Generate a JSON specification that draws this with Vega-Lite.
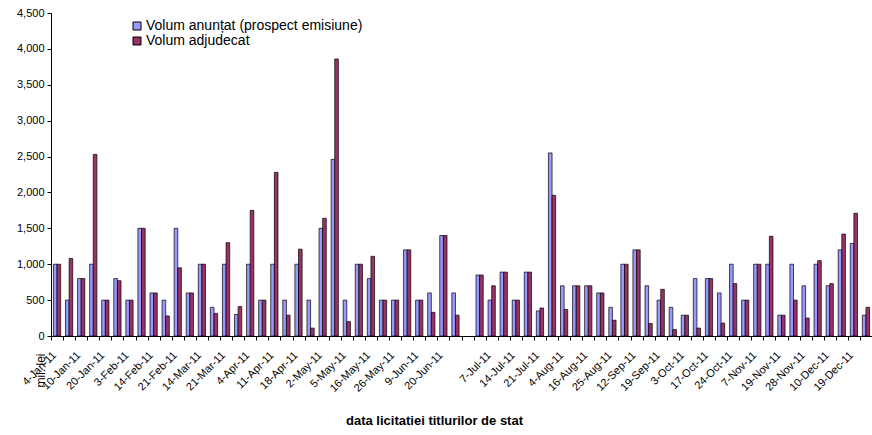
{
  "$schema": "https://vega.github.io/schema/vega-lite/v6.json",
  "width": 821,
  "height": 323,
  "autosize": {"type": "none"},
  "padding": {"left": 51, "top": 13, "right": 0, "bottom": 99},
  "background": "white",
  "config": {"view": {"stroke": null}, "font": "Liberation Sans"},
  "data": {"values": [
    {"data":"4-Jan-11","anuntat":1000,"adjudecat":1000},
    {"data":"6-Jan-11","anuntat":500,"adjudecat":1080},
    {"data":"10-Jan-11","anuntat":800,"adjudecat":800},
    {"data":"17-Jan-11","anuntat":1000,"adjudecat":2530},
    {"data":"20-Jan-11","anuntat":500,"adjudecat":500},
    {"data":"27-Jan-11","anuntat":800,"adjudecat":770},
    {"data":"3-Feb-11","anuntat":500,"adjudecat":500},
    {"data":"10-Feb-11","anuntat":1500,"adjudecat":1500},
    {"data":"14-Feb-11","anuntat":600,"adjudecat":600},
    {"data":"17-Feb-11","anuntat":500,"adjudecat":280},
    {"data":"21-Feb-11","anuntat":1500,"adjudecat":950},
    {"data":"28-Feb-11","anuntat":600,"adjudecat":600},
    {"data":"14-Mar-11","anuntat":1000,"adjudecat":1000},
    {"data":"17-Mar-11","anuntat":400,"adjudecat":315},
    {"data":"21-Mar-11","anuntat":1000,"adjudecat":1300},
    {"data":"28-Mar-11","anuntat":300,"adjudecat":410},
    {"data":"4-Apr-11","anuntat":1000,"adjudecat":1750},
    {"data":"7-Apr-11","anuntat":500,"adjudecat":500},
    {"data":"11-Apr-11","anuntat":1000,"adjudecat":2280},
    {"data":"14-Apr-11","anuntat":500,"adjudecat":290},
    {"data":"18-Apr-11","anuntat":1000,"adjudecat":1210},
    {"data":"28-Apr-11","anuntat":500,"adjudecat":110},
    {"data":"2-May-11","anuntat":1500,"adjudecat":1640},
    {"data":"4-May-11","anuntat":2460,"adjudecat":3860},
    {"data":"5-May-11","anuntat":500,"adjudecat":200},
    {"data":"12-May-11","anuntat":1000,"adjudecat":1000},
    {"data":"16-May-11","anuntat":800,"adjudecat":1110},
    {"data":"23-May-11","anuntat":500,"adjudecat":500},
    {"data":"26-May-11","anuntat":500,"adjudecat":500},
    {"data":"30-May-11","anuntat":1200,"adjudecat":1200},
    {"data":"9-Jun-11","anuntat":500,"adjudecat":500},
    {"data":"16-Jun-11","anuntat":600,"adjudecat":330},
    {"data":"20-Jun-11","anuntat":1400,"adjudecat":1400},
    {"data":"23-Jun-11","anuntat":600,"adjudecat":290},
    {"data":"4-Jul-11","anuntat":850,"adjudecat":850},
    {"data":"7-Jul-11","anuntat":500,"adjudecat":700},
    {"data":"11-Jul-11","anuntat":890,"adjudecat":890},
    {"data":"14-Jul-11","anuntat":500,"adjudecat":500},
    {"data":"18-Jul-11","anuntat":890,"adjudecat":890},
    {"data":"21-Jul-11","anuntat":350,"adjudecat":390},
    {"data":"28-Jul-11","anuntat":2550,"adjudecat":1960},
    {"data":"4-Aug-11","anuntat":700,"adjudecat":370},
    {"data":"11-Aug-11","anuntat":700,"adjudecat":700},
    {"data":"16-Aug-11","anuntat":700,"adjudecat":700},
    {"data":"22-Aug-11","anuntat":600,"adjudecat":600},
    {"data":"25-Aug-11","anuntat":400,"adjudecat":220},
    {"data":"8-Sep-11","anuntat":1000,"adjudecat":1000},
    {"data":"12-Sep-11","anuntat":1200,"adjudecat":1200},
    {"data":"15-Sep-11","anuntat":700,"adjudecat":175},
    {"data":"19-Sep-11","anuntat":500,"adjudecat":650},
    {"data":"26-Sep-11","anuntat":400,"adjudecat":90},
    {"data":"3-Oct-11","anuntat":290,"adjudecat":290},
    {"data":"10-Oct-11","anuntat":800,"adjudecat":110},
    {"data":"17-Oct-11","anuntat":800,"adjudecat":800},
    {"data":"20-Oct-11","anuntat":600,"adjudecat":180},
    {"data":"24-Oct-11","anuntat":1000,"adjudecat":730},
    {"data":"31-Oct-11","anuntat":500,"adjudecat":500},
    {"data":"7-Nov-11","anuntat":1000,"adjudecat":1000},
    {"data":"14-Nov-11","anuntat":1000,"adjudecat":1390},
    {"data":"19-Nov-11","anuntat":290,"adjudecat":290},
    {"data":"24-Nov-11","anuntat":1000,"adjudecat":500},
    {"data":"28-Nov-11","anuntat":700,"adjudecat":250},
    {"data":"5-Dec-11","anuntat":1000,"adjudecat":1050},
    {"data":"10-Dec-11","anuntat":700,"adjudecat":730},
    {"data":"15-Dec-11","anuntat":1200,"adjudecat":1420},
    {"data":"19-Dec-11","anuntat":1290,"adjudecat":1710},
    {"data":"22-Dec-11","anuntat":290,"adjudecat":400}
  ]},
  "transform": [{"fold": ["anuntat", "adjudecat"], "as": ["serie", "valoare"]}],
  "mark": {"type": "bar", "stroke": "black", "strokeWidth": 0.7},
  "encoding": {
    "x": {
      "field": "data",
      "type": "nominal",
      "scale": {
        "domain": ["4-Jan-11","6-Jan-11","10-Jan-11","17-Jan-11","20-Jan-11","27-Jan-11","3-Feb-11","10-Feb-11","14-Feb-11","17-Feb-11","21-Feb-11","28-Feb-11","14-Mar-11","17-Mar-11","21-Mar-11","28-Mar-11","4-Apr-11","7-Apr-11","11-Apr-11","14-Apr-11","18-Apr-11","28-Apr-11","2-May-11","4-May-11","5-May-11","12-May-11","16-May-11","23-May-11","26-May-11","30-May-11","9-Jun-11","16-Jun-11","20-Jun-11","23-Jun-11"," ","4-Jul-11","7-Jul-11","11-Jul-11","14-Jul-11","18-Jul-11","21-Jul-11","28-Jul-11","4-Aug-11","11-Aug-11","16-Aug-11","22-Aug-11","25-Aug-11","8-Sep-11","12-Sep-11","15-Sep-11","19-Sep-11","26-Sep-11","3-Oct-11","10-Oct-11","17-Oct-11","20-Oct-11","24-Oct-11","31-Oct-11","7-Nov-11","14-Nov-11","19-Nov-11","24-Nov-11","28-Nov-11","5-Dec-11","10-Dec-11","15-Dec-11","19-Dec-11","22-Dec-11"],
        "paddingInner": 0.4,
        "paddingOuter": 0.2
      },
      "axis": {
        "title": "data  licitatiei  titlurilor de stat",
        "titleFontWeight": "bold",
        "titleFontSize": 13,
        "titleColor": "black",
        "titleX": 383,
        "titleY": 88,
        "titleBaseline": "alphabetic",
        "labelAngle": -45,
        "labelFontSize": 11,
        "labelColor": "black",
        "labelExpr": "round(datum.index * 67) % 2 == 0 ? datum.label : ''",
        "labelPadding": 9,
        "tickOffset": -6,
        "labelOffset": -1,
        "tickColor": "black",
        "tickSize": 4,
        "domainColor": "black"
      }
    },
    "xOffset": {"field": "serie", "type": "nominal", "scale": {"domain": ["anuntat", "adjudecat"]}},
    "y": {
      "field": "valoare",
      "type": "quantitative",
      "scale": {"domain": [0, 4500], "nice": false},
      "axis": {
        "title": "mil. lei",
        "values": [0, 500, 1000, 1500, 2000, 2500, 3000, 3500, 4000, 4500],
        "format": ",d",
        "grid": false,
        "domainColor": "black",
        "tickColor": "black",
        "tickSize": 4,
        "labelFontSize": 11,
        "labelColor": "black",
        "labelPadding": 3,
        "titleAngle": 270,
        "titleX": -11,
        "titleY": 357,
        "titleAlign": "center",
        "titleBaseline": "middle",
        "titleFontWeight": "normal",
        "titleFontSize": 12,
        "titleColor": "black"
      }
    },
    "color": {
      "field": "serie",
      "type": "nominal",
      "scale": {"domain": ["anuntat", "adjudecat"], "range": ["#9999FF", "#993366"]},
      "legend": {
        "orient": "none",
        "legendX": 79,
        "legendY": 6,
        "title": null,
        "padding": 0,
        "labelFontSize": 14,
        "labelColor": "black",
        "labelLimit": 0,
        "labelOffset": 2,
        "rowPadding": 1,
        "symbolType": "square",
        "symbolSize": 64,
        "symbolStrokeColor": "black",
        "symbolStrokeWidth": 1,
        "labelExpr": "datum.value == 'anuntat' ? 'Volum anunțat (prospect emisiune)' : 'Volum adjudecat'"
      }
    }
  }
}
